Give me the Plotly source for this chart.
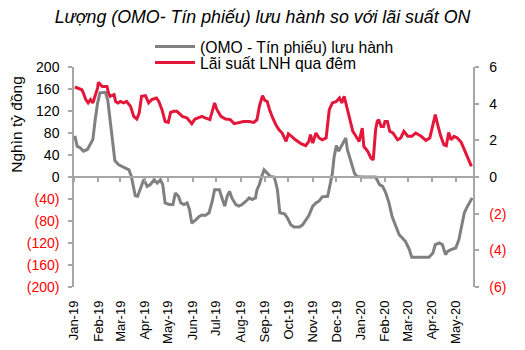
import plotly.graph_objects as go

# (OMO - Tín phiếu) lưu hành, nghìn tỷ đồng (left axis)
omo_dates = [
    "2019-01-02", "2019-01-05", "2019-01-09", "2019-01-13", "2019-01-18", "2019-01-22",
    "2019-01-25", "2019-01-28", "2019-01-31", "2019-02-03", "2019-02-10", "2019-02-13",
    "2019-02-16", "2019-02-19", "2019-02-22", "2019-02-27", "2019-03-05", "2019-03-12",
    "2019-03-15", "2019-03-17", "2019-03-20", "2019-03-23", "2019-03-26", "2019-03-31",
    "2019-04-04", "2019-04-08", "2019-04-13", "2019-04-17", "2019-04-21", "2019-04-24",
    "2019-04-27", "2019-05-02", "2019-05-07", "2019-05-10", "2019-05-14", "2019-05-17",
    "2019-05-21", "2019-05-25", "2019-05-28", "2019-05-31", "2019-06-05", "2019-06-09",
    "2019-06-13", "2019-06-17", "2019-06-22", "2019-06-26", "2019-06-29", "2019-07-05",
    "2019-07-09", "2019-07-12", "2019-07-15", "2019-07-18", "2019-07-21", "2019-07-26",
    "2019-07-30", "2019-08-03", "2019-08-08", "2019-08-12", "2019-08-16", "2019-08-20",
    "2019-08-22", "2019-08-25", "2019-08-28", "2019-08-31", "2019-09-04", "2019-09-08",
    "2019-09-13", "2019-09-17", "2019-09-20", "2019-09-26", "2019-09-30", "2019-10-04",
    "2019-10-08", "2019-10-15", "2019-10-19", "2019-10-23", "2019-10-27", "2019-11-01",
    "2019-11-05", "2019-11-09", "2019-11-13", "2019-11-20", "2019-11-23", "2019-11-26",
    "2019-11-28", "2019-12-01", "2019-12-04", "2019-12-07", "2019-12-10", "2019-12-13",
    "2019-12-15", "2019-12-20", "2019-12-24", "2019-12-27", "2020-01-03", "2020-01-18",
    "2020-01-20", "2020-01-25", "2020-01-29", "2020-02-02", "2020-02-06", "2020-02-10",
    "2020-02-15", "2020-02-19", "2020-02-23", "2020-02-27", "2020-03-03", "2020-03-06",
    "2020-03-16", "2020-03-28", "2020-04-02", "2020-04-05", "2020-04-10", "2020-04-14",
    "2020-04-18", "2020-04-21", "2020-04-25", "2020-05-01", "2020-05-05", "2020-05-08",
    "2020-05-12", "2020-05-16", "2020-05-22",
]
omo_values = [
    75, 56, 53, 47, 50, 62,
    68, 104, 134, 153, 154, 140,
    104, 62, 30, 22, 18, 13,
    1, -14, -34, -35, -23, -4,
    -17, -14, -5, -11, -5, -14,
    -47, -50, -50, -29, -35, -47,
    -50, -47, -59, -84, -78, -72,
    -69, -70, -65, -44, -23, -23,
    -41, -53, -35, -26, -38, -50,
    -53, -50, -44, -38, -41, -38,
    -23, -14, 1, 13, 7, 1,
    0, -23, -65, -67, -75, -87,
    -91, -91, -87, -78, -70, -53,
    -47, -44, -36, -35, -11, 7,
    35, 57, 47, 56, 65, 71,
    50, 25, 7, 1, 0, 0,
    0, -14, -17, -29, -47, -72,
    -90, -105, -111, -117, -132, -146,
    -146, -146, -138, -123, -120, -123,
    -141, -135, -132, -129, -114, -90,
    -65, -53, -38,
]

# Lãi suất LNH qua đêm, % (right axis)
on_dates = [
    "2019-01-02", "2019-01-07", "2019-01-11", "2019-01-13", "2019-01-16", "2019-01-19",
    "2019-01-22", "2019-01-25", "2019-01-28", "2019-01-31", "2019-02-01", "2019-02-06",
    "2019-02-12", "2019-02-14", "2019-02-16", "2019-02-21", "2019-02-23", "2019-02-26",
    "2019-03-01", "2019-03-05", "2019-03-09", "2019-03-14", "2019-03-18", "2019-03-22",
    "2019-03-25", "2019-03-28", "2019-04-02", "2019-04-06", "2019-04-10", "2019-04-16",
    "2019-04-19", "2019-04-23", "2019-04-27", "2019-05-01", "2019-05-04", "2019-05-08",
    "2019-05-12", "2019-05-19", "2019-05-25", "2019-05-31", "2019-06-04", "2019-06-09",
    "2019-06-13", "2019-06-17", "2019-06-23", "2019-06-26", "2019-06-29", "2019-07-02",
    "2019-07-07", "2019-07-13", "2019-07-19", "2019-07-24", "2019-07-30", "2019-08-05",
    "2019-08-12", "2019-08-18", "2019-08-22", "2019-08-25", "2019-08-29", "2019-09-01",
    "2019-09-04", "2019-09-07", "2019-09-11", "2019-09-15", "2019-09-19", "2019-09-23",
    "2019-09-28", "2019-10-01", "2019-10-05", "2019-10-10", "2019-10-17", "2019-10-23",
    "2019-10-27", "2019-10-29", "2019-11-01", "2019-11-05", "2019-11-09", "2019-11-13",
    "2019-11-18", "2019-11-22", "2019-11-26", "2019-12-01", "2019-12-05", "2019-12-08",
    "2019-12-11", "2019-12-14", "2019-12-17", "2019-12-22", "2019-12-26", "2019-12-30",
    "2020-01-03", "2020-01-05", "2020-01-10", "2020-01-14", "2020-01-17", "2020-01-20",
    "2020-01-22", "2020-01-24", "2020-01-27", "2020-01-30", "2020-02-01", "2020-02-04",
    "2020-02-07", "2020-02-11", "2020-02-17", "2020-02-21", "2020-02-25", "2020-03-01",
    "2020-03-06", "2020-03-11", "2020-03-18", "2020-03-24", "2020-03-29", "2020-04-02",
    "2020-04-05", "2020-04-08", "2020-04-12", "2020-04-16", "2020-04-19", "2020-04-22",
    "2020-04-25", "2020-04-29", "2020-05-03", "2020-05-08", "2020-05-12", "2020-05-16",
    "2020-05-21",
]
on_values = [
    4.91, 4.85, 4.76, 4.58, 4.22, 4.04,
    4.22, 4.04, 4.40, 4.85, 5.16, 4.94,
    4.94, 4.58, 4.40, 4.49, 4.12, 4.04,
    4.12, 4.04, 4.12, 3.85, 3.31, 3.16,
    3.49, 4.40, 4.44, 4.04, 4.22, 4.31,
    4.12, 3.67, 3.03, 2.98, 3.52, 3.58,
    3.58, 3.31, 3.22, 2.91, 3.16, 3.22,
    3.31, 3.22, 3.13, 3.58, 4.04, 3.67,
    3.31, 3.16, 3.13, 2.91, 2.95, 3.03,
    3.03, 2.98, 3.13, 3.85, 4.44, 4.18,
    4.12, 3.67, 3.22, 2.85, 2.58, 2.40,
    1.94, 2.36, 2.22, 2.03, 1.82, 1.71,
    1.94, 2.31, 1.85, 2.40, 2.13, 2.03,
    2.13, 3.67, 4.04, 4.12, 4.31, 4.04,
    4.40, 3.85, 3.40, 2.49, 2.22, 1.94,
    2.67, 1.67, 1.40, 1.04, 0.94, 2.58,
    3.03, 3.13, 2.76, 2.76, 3.03, 3.03,
    2.49, 2.40, 2.03, 2.13, 2.49, 2.22,
    2.22, 2.40, 2.22, 2.00, 2.13, 2.95,
    3.40, 2.85, 2.22, 1.76, 1.71, 2.43,
    2.03, 2.22, 2.13, 1.89, 1.49, 1.12,
    0.58,
]

left_ticks = [200, 160, 120, 80, 40, 0, -40, -80, -120, -160, -200]
right_ticks = [6, 4, 2, 0, -2, -4, -6]


def fmt(v, prefix=""):
    if v < 0:
        return prefix + '<span style="color:#FF0000">(%d)</span>' % (-v)
    return prefix + "%d" % v


x_range = ["2019-01-01", "2020-05-23"]
GRAY_AX = "#A6A6A6"
FONT = "Liberation Sans, Arial, sans-serif"
NB = "\u00a0\u00a0"

fig = go.Figure()
fig.add_trace(go.Scatter(
    x=omo_dates, y=omo_values, mode="lines", name="(OMO - Tín phiếu) lưu hành",
    line=dict(color="#808080", width=3), yaxis="y", legend="legend",
))
fig.add_trace(go.Scatter(
    x=on_dates, y=on_values, mode="lines", name="Lãi suất LNH qua đêm",
    line=dict(color="#E3173A", width=3), yaxis="y2", legend="legend2",
))
# empty trace so that the zero-line date axis (x2) is drawn
fig.add_trace(go.Scatter(
    x=[], y=[], xaxis="x2", yaxis="y", showlegend=False, hoverinfo="skip",
))

fig.update_layout(
    width=525, height=350,
    margin=dict(l=74, r=52, t=67, b=63),
    paper_bgcolor="white", plot_bgcolor="white",
    font=dict(family=FONT, size=14, color="#000000"),
    title=dict(
        text="<i>Lượng (OMO- Tín phiếu) lưu hành so với lãi suất ON</i>",
        x=0.5, xanchor="center", y=1 - 17 / 350, yanchor="middle",
        font=dict(size=17.8, family=FONT),
    ),
    xaxis=dict(
        type="date", range=x_range, dtick="M1", tick0="2019-01-01",
        tickformat="%b-%y", tickangle=-90, showline=False, ticks="",
        showgrid=False, zeroline=False, tickfont=dict(size=13),
        ticklabelstandoff=10, automargin=False,
    ),
    xaxis2=dict(
        type="date", range=x_range, dtick="M1", tick0="2019-01-01",
        overlaying="x", anchor="free", position=0.5, side="bottom",
        showline=True, linecolor=GRAY_AX, linewidth=2,
        ticks="outside", ticklen=4, tickcolor=GRAY_AX, tickwidth=1.5,
        showticklabels=False, showgrid=False, zeroline=False, automargin=False,
    ),
    yaxis=dict(
        range=[-200, 200], tickvals=left_ticks, ticktext=[fmt(v) for v in left_ticks],
        showline=True, linecolor=GRAY_AX, linewidth=1.5,
        ticks="outside", ticklen=4, tickcolor=GRAY_AX, tickwidth=1.5,
        showgrid=False, zeroline=False, ticklabelstandoff=6, automargin=False,
    ),
    yaxis2=dict(
        range=[-6, 6], tickvals=right_ticks, ticktext=[fmt(v, NB) for v in right_ticks],
        overlaying="y", side="right", anchor="x",
        showline=True, linecolor=GRAY_AX, linewidth=1.5,
        ticks="outside", ticklen=4, tickcolor=GRAY_AX, tickwidth=1.5,
        showgrid=False, zeroline=False, automargin=False,
    ),
    legend=dict(
        x=(150 - 74) / 399, xanchor="left", y=(287.3 - 47) / 220, yanchor="middle",
        bgcolor="rgba(0,0,0,0)", font=dict(size=15.7), itemwidth=40,
    ),
    legend2=dict(
        x=(150 - 74) / 399, xanchor="left", y=(287.3 - 63) / 220, yanchor="middle",
        bgcolor="rgba(0,0,0,0)", font=dict(size=15.7), itemwidth=40,
    ),
    showlegend=True,
    annotations=[dict(
        text="Nghìn tỷ đồng", textangle=-90, showarrow=False,
        xref="paper", yref="paper", x=(17 - 74) / 399, y=(287.3 - 125) / 220,
        xanchor="center", yanchor="middle", font=dict(size=15.5),
    )],
)

fig.write_html("out.html")
